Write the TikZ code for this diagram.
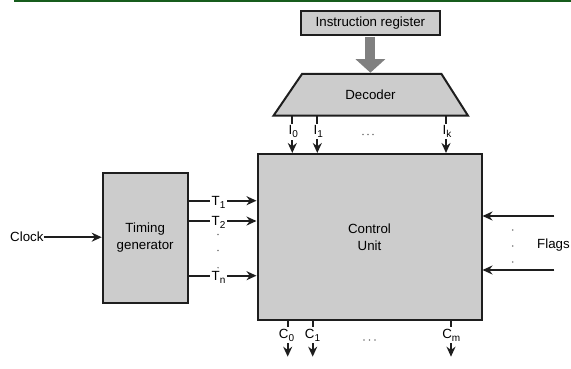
\documentclass[tikz,border=0pt]{standalone}
\usepackage{fontspec}
\setmainfont{Liberation Sans}
\usetikzlibrary{arrows.meta}
\definecolor{boxfill}{RGB}{204,204,204}
\definecolor{edge}{RGB}{30,30,30}
\definecolor{bigarrow}{RGB}{128,128,128}
\definecolor{band}{RGB}{22,92,28}
\definecolor{dotgray}{RGB}{120,120,120}
\newcommand{\sbx}[1]{\raisebox{-3pt}{\fontsize{10}{10}\selectfont #1}}
\begin{document}
\begin{tikzpicture}[x=1pt,y=-1pt,
  blk/.style={draw=edge, fill=boxfill, line width=2pt},
  txt/.style={font=\fontsize{13.3}{17}\selectfont, align=center, inner sep=0pt},
  conn/.style={draw=edge, line width=1.8pt},
  arr/.style={conn, -{Stealth[length=10pt,width=9pt]}},
  lbl/.style={font=\fontsize{13.3}{13}\selectfont, fill=white, inner sep=1.5pt, anchor=base},
  dotmark/.style={fill=dotgray, draw=none}
]
\useasboundingbox (0,0) rectangle (571,369);
% top band
\fill[band] (14,0) rectangle (571,2.5);

% instruction register
\node[blk, txt, minimum width=139pt, minimum height=24pt] (ir) at (370.4,23) {Instruction register};

% decoder
\coordinate (dtl) at (302,74);
\coordinate (dtr) at (441.5,74);
\coordinate (dbr) at (468,115.7);
\coordinate (dbl) at (273.5,115.7);
\coordinate (dtip) at (370.4,72.7);
\draw[bigarrow, line width=10pt, -{Triangle[length=13.5pt,width=29pt]}] ([yshift=-1pt]ir.south) -- (dtip);
\draw[blk] (dtl) -- (dtr) -- (dbr) -- (dbl) -- cycle;
\node[txt] (dec) at (370.5,94.5) {Decoder};

% control unit
\node[blk, txt, minimum width=224pt, minimum height=166pt] (cu) at (369.5,237) {Control\\Unit};

% timing generator
\node[blk, txt, minimum width=85pt, minimum height=129.4pt] (tg) at (145.2,238) {Timing\\generator};

% clock
\node[txt, anchor=west] (clk) at (10,237.2) {Clock};
\draw[arr] (clk.east) -- (tg.west |- clk.east);

% timing outputs
\coordinate (t1) at (218.5,200.7);
\coordinate (t2) at (218.5,221);
\coordinate (tn) at (218.5,275.7);
\draw[arr] (tg.east |- t1) -- (cu.west |- t1);
\draw[arr] (tg.east |- t2) -- (cu.west |- t2);
\draw[arr] (tg.east |- tn) -- (cu.west |- tn);
\node[lbl] (t1l) at (218.5,205.3) {T\sbx{1}};
\node[lbl] (t2l) at (218.5,225.6) {T\sbx{2}};
\node[lbl] (tnl) at (218.5,280.3) {T\sbx{n}};
\fill[dotmark] (218,234.5) circle (0.8);
\fill[dotmark] (218,250.5) circle (0.8);
\fill[dotmark] (218,267.7) circle (0.8);

% decoder outputs
\coordinate (i0) at (292.3,130);
\coordinate (i1) at (317.3,130);
\coordinate (ik) at (446,130);
\draw[arr] (i0 |- dbl) -- (i0 |- cu.north);
\draw[arr] (i1 |- dbl) -- (i1 |- cu.north);
\draw[arr] (ik |- dbl) -- (ik |- cu.north);
\node[lbl] (i0l) at (293.3,135) {I\sbx{0}};
\node[lbl] (i1l) at (318.3,135) {I\sbx{1}};
\node[lbl] (ikl) at (447,135) {I\sbx{k}};
\fill[dotmark] (363,134.5) circle (0.8);
\fill[dotmark] (368,134.5) circle (0.8);
\fill[dotmark] (373,134.5) circle (0.8);

% control outputs
\coordinate (c0) at (287.7,356.7);
\coordinate (c1) at (312.7,356.7);
\coordinate (cm) at (451,356.7);
\draw[arr] (c0 |- cu.south) -- (c0);
\draw[arr] (c1 |- cu.south) -- (c1);
\draw[arr] (cm |- cu.south) -- (cm);
\node[lbl] (c0l) at (286.5,338) {C\sbx{0}};
\node[lbl] (c1l) at (312.5,338) {C\sbx{1}};
\node[lbl] (cml) at (451.3,338) {C\sbx{m}};
\fill[dotmark] (364,340) circle (0.8);
\fill[dotmark] (369.5,340) circle (0.8);
\fill[dotmark] (375,340) circle (0.8);

% flags
\coordinate (f1) at (554.3,216);
\coordinate (f2) at (554.3,270);
\draw[arr] (f1) -- (cu.east |- f1);
\draw[arr] (f2) -- (cu.east |- f2);
\node[txt] (flags) at (553.5,245) {Flags};
\fill[dotmark] (512.7,230) circle (0.8);
\fill[dotmark] (512.7,246) circle (0.8);
\fill[dotmark] (512.7,262) circle (0.8);
\end{tikzpicture}
\end{document}
